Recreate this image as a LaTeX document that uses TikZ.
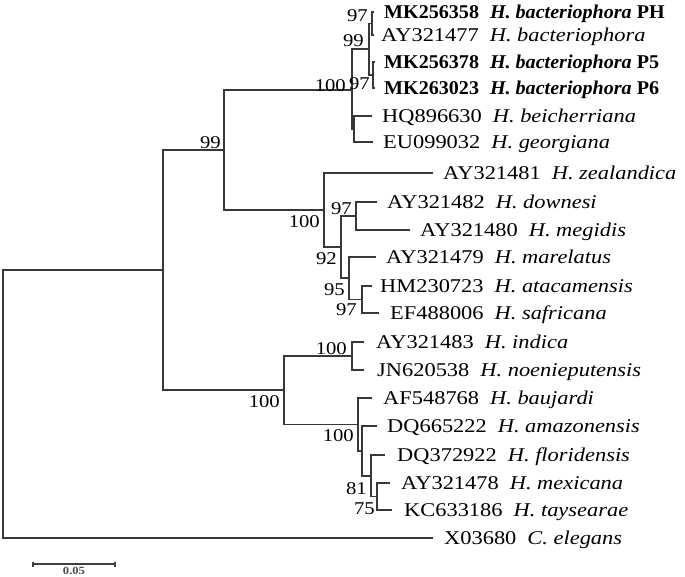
\documentclass[tikz,border=0pt]{standalone}
\usepackage{fontspec}
\usetikzlibrary{calc}
\setmainfont[FakeStretch=1.15]{Liberation Serif}
\newfontfamily\boldrowfont[FakeStretch=1.03]{Liberation Serif}
\newcommand\leaftxt[2]{#1\hspace{11pt}\textit{#2}}
\newcommand\boldleaf[3]{{\boldrowfont\bfseries #1\hspace{11pt}\textit{#2} #3}}
\tikzset{
  branch/.style={line width=1.6pt, draw=black!78},
  leaf/.style={anchor=base west, inner sep=0pt, font=\fontsize{19.5}{20}\selectfont},
  bsa/.style={anchor=south east, inner sep=0pt, font=\fontsize{18}{18}\selectfont},
  bsb/.style={anchor=north east, inner sep=0pt, font=\fontsize{18}{18}\selectfont},
  scalebar/.style={line width=1.4pt, draw=black!75},
}
\begin{document}
\begin{tikzpicture}[x=1pt,y=-1pt]
\useasboundingbox (0,0) rectangle (685,577);
% internal nodes
\coordinate (r) at (3,404);
\coordinate (I) at (163,270);
\coordinate (U1) at (224,150);
\coordinate (P) at (352,90);
\coordinate (Q) at (369,49);
\coordinate (S) at (372,23.5);
\coordinate (T) at (373,75);
\coordinate (R) at (354,129);
\coordinate (Z) at (324,210);
\coordinate (Y) at (341,247);
\coordinate (X) at (356,216);
\coordinate (U) at (349,278);
\coordinate (V) at (362,299.5);
\coordinate (L) at (284,390);
\coordinate (M) at (352,356);
\coordinate (A) at (358,424.5);
\coordinate (B) at (362,451);
\coordinate (C) at (371,476);
\coordinate (D) at (377,496.5);
% tips
\coordinate (t1) at (374,12);
\coordinate (t2) at (374,35);
\coordinate (t3) at (375,62);
\coordinate (t4) at (375,88);
\coordinate (t5) at (372,116);
\coordinate (t6) at (373,142);
\coordinate (t7) at (433,173);
\coordinate (t8) at (377,202);
\coordinate (t9) at (410,230);
\coordinate (t10) at (376,257);
\coordinate (t11) at (372,286);
\coordinate (t12) at (379,313);
\coordinate (t13) at (364,342);
\coordinate (t14) at (364,370);
\coordinate (t15) at (372,398);
\coordinate (t16) at (377,426);
\coordinate (t17) at (385,455);
\coordinate (t18) at (390,483);
\coordinate (t19) at (392,510);
\coordinate (t20) at (433,538);
% branches
\draw[branch] (r) |- (I);  \draw[branch] (r) |- (t20);
\draw[branch] (I) |- (U1); \draw[branch] (I) |- (L);
\draw[branch] (U1) |- (P); \draw[branch] (U1) |- (Z);
\draw[branch] (P) |- (Q);  \draw[branch] (P) |- (R);
\draw[branch] (Q) |- (S);  \draw[branch] (Q) |- (T);
\draw[branch] (S) |- (t1); \draw[branch] (S) |- (t2);
\draw[branch] (T) |- (t3); \draw[branch] (T) |- (t4);
\draw[branch] (R) |- (t5); \draw[branch] (R) |- (t6);
\draw[branch] (Z) |- (t7); \draw[branch] (Z) |- (Y);
\draw[branch] (Y) |- (X);  \draw[branch] (Y) |- (U);
\draw[branch] (X) |- (t8); \draw[branch] (X) |- (t9);
\draw[branch] (U) |- (t10); \draw[branch] (U) |- (V);
\draw[branch] (V) |- (t11); \draw[branch] (V) |- (t12);
\draw[branch] (L) |- (M);  \draw[branch] (L) |- (A);
\draw[branch] (M) |- (t13); \draw[branch] (M) |- (t14);
\draw[branch] (A) |- (t15); \draw[branch] (A) |- (B);
\draw[branch] (B) |- (t16); \draw[branch] (B) |- (C);
\draw[branch] (C) |- (t17); \draw[branch] (C) |- (D);
\draw[branch] (D) |- (t18); \draw[branch] (D) |- (t19);
% leaf labels
\node[leaf] (l1) at ([shift={(10,6.5)}]t1) {\boldleaf{MK256358}{H. bacteriophora}{PH}};
\node[leaf] (l2) at ([shift={(7,6.5)}]t2) {\leaftxt{AY321477}{H. bacteriophora}};
\node[leaf] (l3) at ([shift={(9,6.5)}]t3) {\boldleaf{MK256378}{H. bacteriophora}{P5}};
\node[leaf] (l4) at ([shift={(9,6.5)}]t4) {\boldleaf{MK263023}{H. bacteriophora}{P6}};
\node[leaf] (l5) at ([shift={(10,6.5)}]t5) {\leaftxt{HQ896630}{H. beicherriana}};
\node[leaf] (l6) at ([shift={(10,6.5)}]t6) {\leaftxt{EU099032}{H. georgiana}};
\node[leaf] (l7) at ([shift={(10,6.5)}]t7) {\leaftxt{AY321481}{H. zealandica}};
\node[leaf] (l8) at ([shift={(10,6.5)}]t8) {\leaftxt{AY321482}{H. downesi}};
\node[leaf] (l9) at ([shift={(10,6.5)}]t9) {\leaftxt{AY321480}{H. megidis}};
\node[leaf] (l10) at ([shift={(10,6.5)}]t10) {\leaftxt{AY321479}{H. marelatus}};
\node[leaf] (l11) at ([shift={(8,6.5)}]t11) {\leaftxt{HM230723}{H. atacamensis}};
\node[leaf] (l12) at ([shift={(11,6.5)}]t12) {\leaftxt{EF488006}{H. safricana}};
\node[leaf] (l13) at ([shift={(12,6.5)}]t13) {\leaftxt{AY321483}{H. indica}};
\node[leaf] (l14) at ([shift={(13,6.5)}]t14) {\leaftxt{JN620538}{H. noenieputensis}};
\node[leaf] (l15) at ([shift={(11,6.5)}]t15) {\leaftxt{AF548768}{H. baujardi}};
\node[leaf] (l16) at ([shift={(10,6.5)}]t16) {\leaftxt{DQ665222}{H. amazonensis}};
\node[leaf] (l17) at ([shift={(12,6.5)}]t17) {\leaftxt{DQ372922}{H. floridensis}};
\node[leaf] (l18) at ([shift={(11,6.5)}]t18) {\leaftxt{AY321478}{H. mexicana}};
\node[leaf] (l19) at ([shift={(12,6.5)}]t19) {\leaftxt{KC633186}{H. taysearae}};
\node[leaf] (l20) at ([shift={(11,6.5)}]t20) {\leaftxt{X03680}{C. elegans}};
% bootstrap values
\node[bsa] (bS) at ([shift={(-4,-2)}]S) {97};
\node[bsa] (bQ) at ([shift={(-5,-2)}]Q) {99};
\node[bsa] (bP) at ([shift={(-6,2)}]P) {100};
\node[bsb] (bT) at ([shift={(-3,2)}]T) {97};
\node[bsa] (bU1) at ([shift={(-3,-1)}]U1) {99};
\node[bsb] (bZ) at ([shift={(-4,5)}]Z) {100};
\node[bsa] (bX) at ([shift={(-4,-1)}]X) {97};
\node[bsb] (bY) at ([shift={(-4,5)}]Y) {92};
\node[bsb] (bU) at ([shift={(-4,5)}]U) {95};
\node[bsb] (bV) at ([shift={(-5,4)}]V) {97};
\node[bsa] (bM) at ([shift={(-5,-1)}]M) {100};
\node[bsb] (bL) at ([shift={(-4,5)}]L) {100};
\node[bsb] (bA) at ([shift={(-4,5)}]A) {100};
\node[bsb] (bC) at ([shift={(-4,6)}]C) {81};
\node[bsb] (bD) at ([shift={(-2,6)}]D) {75};
% scale bar
\coordinate (sb1) at (33,564);
\coordinate (sb2) at (115,564);
\coordinate (sbm) at (74,567);
\draw[scalebar] (sb1) -- (sb2);
\draw[scalebar] ([shift={(0,-2.5)}]sb1) -- ([shift={(0,2.5)}]sb1);
\draw[scalebar] ([shift={(0,-2.5)}]sb2) -- ([shift={(0,2.5)}]sb2);
\node[inner sep=0pt, anchor=north, text=black!70, font=\fontsize{11}{11}\selectfont\bfseries] (sbl) at (sbm) {0.05};
\end{tikzpicture}
\end{document}
